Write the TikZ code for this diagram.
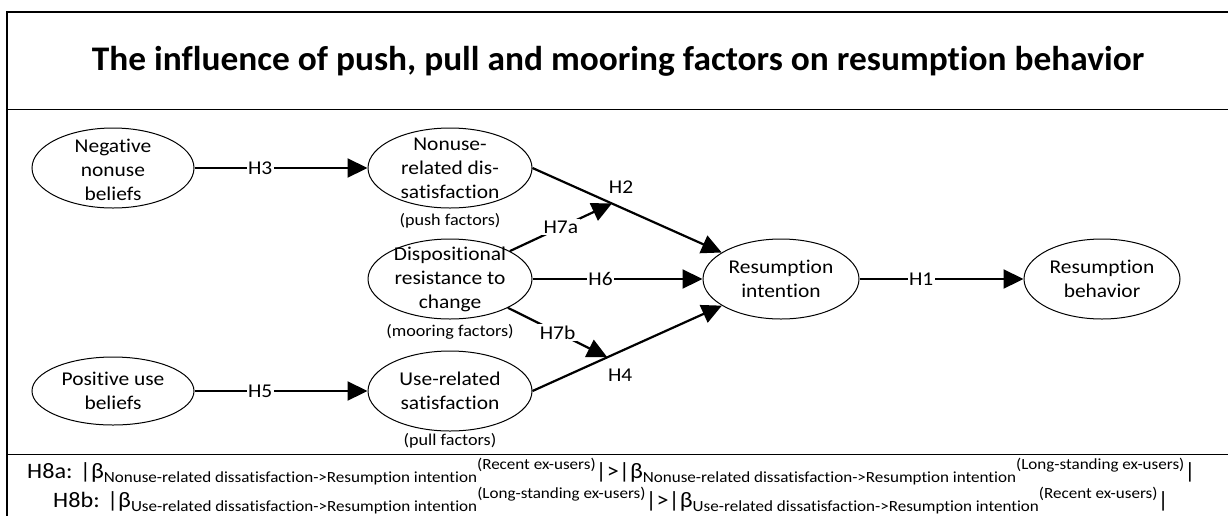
\documentclass[tikz,border=0pt]{standalone}
\usepackage{fontspec}
\setmainfont{Carlito}[FakeStretch=1.1,Ligatures={TeX,NoCommon}]
\newfontfamily\titlefont{Carlito}[FakeStretch=1.025,Ligatures={TeX,NoCommon}]
\usetikzlibrary{arrows.meta,shapes.geometric}
\newcommand\fsz[2]{\fontsize{#1}{#2}\selectfont}
\begin{document}
\begin{tikzpicture}[x=1pt,y=-1pt,
  latent/.style={ellipse,draw,line width=1pt,inner sep=0pt,minimum width=164pt,minimum height=80pt},
  lbl/.style={inner sep=0pt,align=center,font=\fsz{19.5}{24}},
  note/.style={inner sep=0pt,font=\fsz{16.5}{18}},
  hyp/.style={inner sep=1.5pt,fill=white,font=\fsz{19.5}{24}},
  hypfree/.style={inner sep=0pt,font=\fsz{19.5}{24}},
  path/.style={line width=2.2pt,-{Triangle[length=20pt,width=19pt]}},
  frame/.style={line width=1.2pt}]
\useasboundingbox (0,0) rectangle (1228,515);
\clip (0,0) rectangle (1228,515);

% outer frame with title band and hypothesis band
\draw[frame] (7,12) rectangle (1245,530);
\draw[frame] (7,109.3) -- (1245,109.3);
\draw[frame] (7,454.5) -- (1245,454.5);

\node[anchor=base,inner sep=0pt,font=\titlefont\fsz{34.5}{40}\bfseries] (title) at (618,70.7)
  {The influence of push, pull and mooring factors on resumption behavior};

% constructs
\node[latent,minimum width=162pt] (nnb) at (113,168) {};
\node[latent] (nds) at (450,168) {};
\node[latent] (drc) at (450,279) {};
\node[latent] (urs) at (450,391) {};
\node[latent,minimum width=162pt,minimum height=68pt] (pub) at (113,391) {};
\node[latent,minimum width=156pt] (ri) at (781,279) {};
\node[latent,minimum width=156pt] (rb) at (1102,279) {};

\node[lbl] (nnbT) at (113,170) {Negative\\nonuse\\beliefs};
\node[lbl] (ndsT) at (nds.center) {Nonuse-\\related dis-\\satisfaction};
\node[lbl] (drcT) at (drc.center) {Dispositional\\resistance to\\change};
\node[lbl] (ursT) at (urs.center) {Use-related\\satisfaction};
\node[lbl] (pubT) at (pub.center) {Positive use\\beliefs};
\node[lbl] (riT) at (ri.center) {Resumption\\intention};
\node[lbl] (rbT) at (rb.center) {Resumption\\behavior};

\node[note] (push) at (450,221) {(push factors)};
\node[note] (moor) at (450,332) {(mooring factors)};
\node[note] (pull) at (450,441) {(pull factors)};

% hypothesised paths
\draw[path] (nnb.east) -- node[hyp,pos=0.38] (h3) {H3} (nds.west);
\draw[path] (pub.east) -- node[hyp,pos=0.38] (h5) {H5} (urs.west);
\draw[path] (nds.east) -- coordinate[pos=0.42] (m2)
  node[hypfree,pos=0.468,yshift=20.7pt] (h2) {H2} (ri);
\draw[path] (urs.east) -- coordinate[pos=0.395] (m4)
  node[hypfree,pos=0.463,yshift=-23.7pt] (h4) {H4} (ri);
\draw[path] (drc.east) -- node[hyp,pos=0.4] (h6) {H6} (ri.west);
\draw[path] (ri.east) -- node[hyp,pos=0.376] (h1) {H1} (rb.west);
\draw[path] (drc) -- node[hyp,pos=0.5] (h7a) {H7a} (m2);
\draw[path] (drc) -- node[hyp,pos=0.5] (h7b) {H7b} (m4);

% moderation hypotheses
\node[anchor=base west,inner sep=0pt] (h8a) at (27,478)
  {{\fsz{22}{24}H8a: |β}\raisebox{-4pt}{\fsz{15.5}{18}Nonuse-related dissatisfaction->Resumption intention}\raisebox{9pt}{\fsz{15.5}{18}(Recent ex-users)}{\fsz{22}{24}|>|β}\raisebox{-4pt}{\fsz{15.5}{18}Nonuse-related dissatisfaction->Resumption intention}\raisebox{9pt}{\fsz{15.5}{18}(Long-standing ex-users)}{\fsz{22}{24}|}};
\node[anchor=base west,inner sep=0pt] (h8b) at (53,507)
  {{\fsz{22}{24}H8b: |β}\raisebox{-4pt}{\fsz{15.5}{18}Use-related dissatisfaction->Resumption intention}\raisebox{9pt}{\fsz{15.5}{18}(Long-standing ex-users)}{\fsz{22}{24}|>|β}\raisebox{-4pt}{\fsz{15.5}{18}Use-related dissatisfaction->Resumption intention}\raisebox{9pt}{\fsz{15.5}{18}(Recent ex-users)}{\fsz{22}{24}|}};
\end{tikzpicture}
\end{document}
